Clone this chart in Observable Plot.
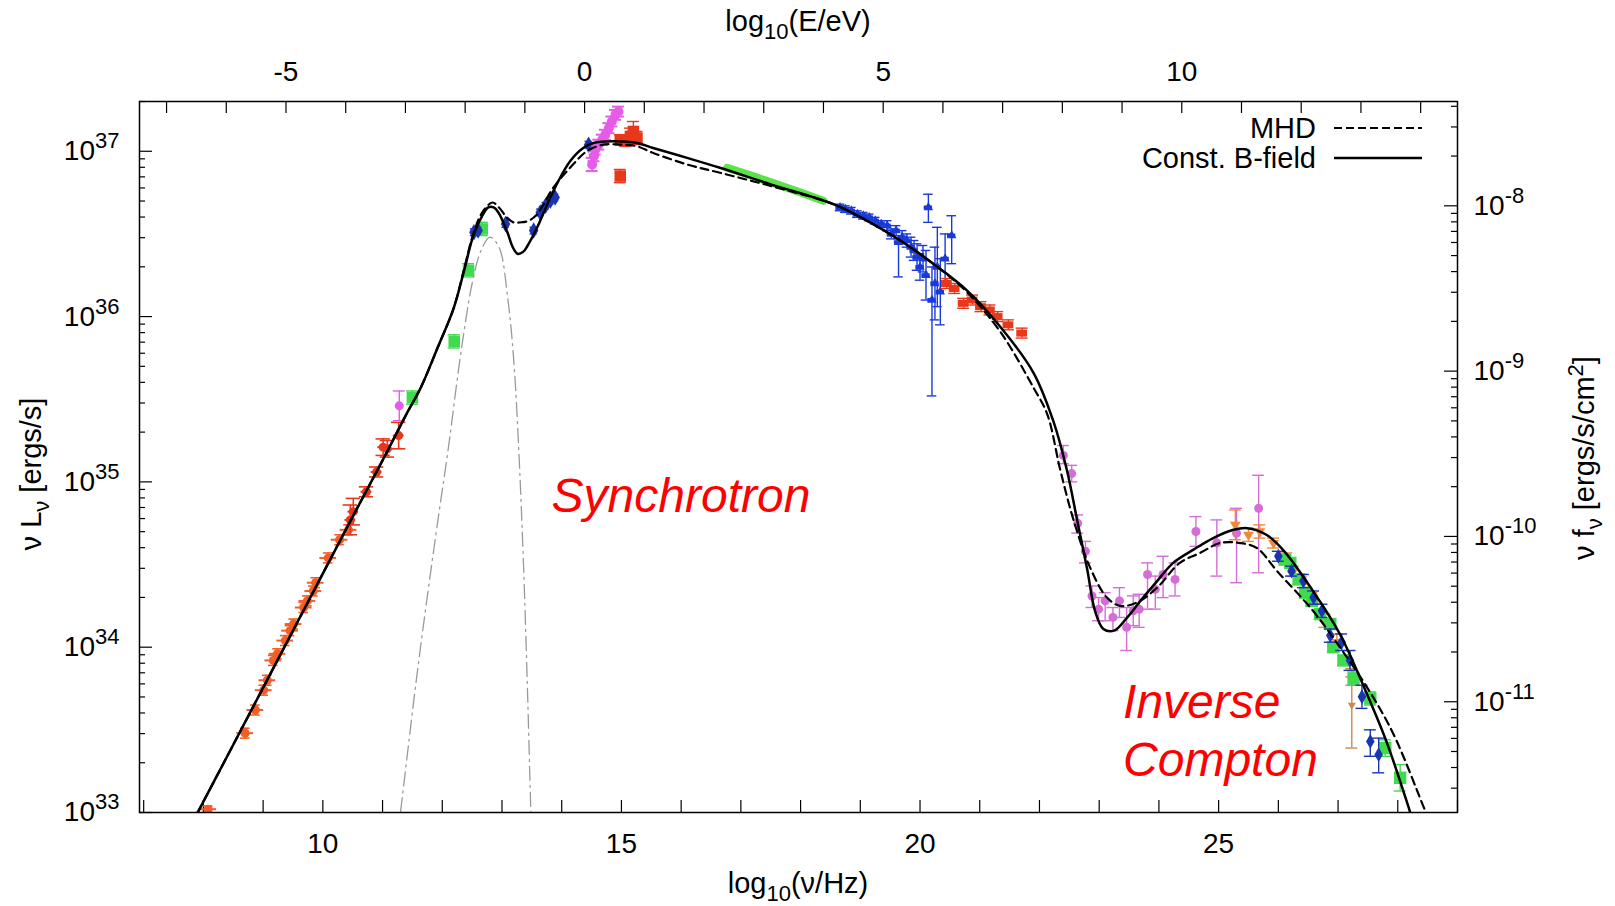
<!DOCTYPE html>
<html><head><meta charset="utf-8">
<script src="https://cdn.jsdelivr.net/npm/d3@7"></script>
<script src="https://cdn.jsdelivr.net/npm/@observablehq/plot@0.6"></script>
<style>
html,body{margin:0;padding:0;background:#fff;}
svg{display:block;}
</style>
</head><body><div id="chart"></div>
<script>
// ---------- axis constants ----------
const LOG_NU_1EV = 14.383;   // log10(nu/Hz) at E = 1 eV
const LOG_4PI_D2 = 44.67;    // log10(nuLnu / nufnu)
const bottomTicks = [10, 15, 20, 25];
const topTicks = [-5, 0, 5, 10];
const leftExponents = [33, 34, 35, 36, 37];
const rightExponents = [-11, -10, -9, -8];

// ---------- model curves [log10 nu, log10 nuLnu] ----------
const constB = [[7.70,32.86],[8.5,33.41],[9.5,34.10],[10.5,34.79],[11.0,35.13],[11.4,35.41],[11.64,35.57],[11.92,35.81],[12.19,36.05],[12.36,36.27],[12.52,36.49],[12.67,36.61],[12.77,36.66],[12.86,36.66],[12.94,36.63],[13.09,36.51],[13.18,36.42],[13.26,36.38],[13.35,36.39],[13.43,36.43],[13.59,36.54],[13.76,36.68],[13.93,36.81],[14.14,36.94],[14.36,37.02],[14.53,37.05],[14.86,37.06],[15.26,37.05],[15.53,37.02],[16.10,36.96],[16.65,36.90],[17.50,36.80],[18.55,36.68],[19.11,36.58],[19.67,36.46],[20.22,36.32],[20.78,36.16],[21.34,35.94],[21.90,35.66],[22.23,35.37],[22.46,35.07],[22.63,34.77],[22.80,34.47],[22.93,34.22],[23.07,34.11],[23.25,34.10],[23.47,34.18],[23.69,34.28],[23.97,34.40],[24.24,34.51],[24.58,34.59],[24.91,34.66],[25.25,34.71],[25.48,34.72],[25.80,34.68],[26.10,34.58],[26.58,34.34],[27.03,34.08],[27.48,33.72],[27.82,33.42],[28.20,33.01],[28.40,32.78]];
const mhd = [[7.70,32.86],[8.5,33.41],[9.5,34.10],[10.5,34.79],[11.0,35.13],[11.4,35.41],[11.64,35.57],[11.92,35.81],[12.19,36.05],[12.36,36.28],[12.52,36.50],[12.67,36.63],[12.84,36.69],[12.95,36.66],[13.08,36.60],[13.19,36.57],[13.31,36.57],[13.45,36.58],[13.59,36.62],[13.86,36.78],[14.14,36.90],[14.42,37.00],[14.70,37.04],[14.98,37.04],[15.26,37.03],[15.53,36.99],[16.10,36.92],[16.65,36.87],[17.50,36.79],[18.55,36.68],[19.11,36.58],[19.67,36.46],[20.22,36.32],[20.78,36.15],[21.34,35.91],[21.90,35.57],[22.13,35.41],[22.35,35.07],[22.57,34.77],[22.85,34.48],[23.13,34.30],[23.35,34.25],[23.63,34.27],[23.97,34.36],[24.35,34.51],[24.69,34.57],[25.02,34.63],[25.36,34.63],[25.64,34.60],[25.98,34.46],[26.58,34.22],[27.03,34.00],[27.48,33.76],[27.92,33.48],[28.46,33.01],[28.65,32.85]];
const dust = [[11.25,32.85],[11.3,33.0],[11.6,33.9],[11.9,34.7],[12.1,35.2],[12.3,35.75],[12.5,36.2],[12.65,36.4],[12.8,36.48],[12.95,36.42],[13.1,36.1],[13.2,35.72],[13.28,35.2],[13.36,34.5],[13.43,33.7],[13.49,32.9]];

// ---------- data points (log10 nu, log10 nuLnu, error) ----------
const radioX = [8.08, 8.70, 8.87, 9.01, 9.07, 9.17, 9.24, 9.37, 9.45, 9.51, 9.68, 9.74, 9.84, 9.88, 10.09, 10.28, 10.43];
const radioY = [33.02, 33.48, 33.62, 33.74, 33.80, 33.92, 33.96, 34.04, 34.10, 34.14, 34.24, 34.28, 34.34, 34.39, 34.54, 34.65, 34.71];
const radioErr = [0.02, 0.03, 0.03, 0.03, 0.03, 0.03, 0.03, 0.03, 0.03, 0.03, 0.03, 0.03, 0.03, 0.03, 0.03, 0.03, 0.03];

const mmX = [10.46, 10.51, 10.73, 10.90, 11.01, 11.08, 11.27];
const mmY = [34.77, 34.82, 34.94, 35.06, 35.21, 35.20, 35.28];
const mmErr = [0.09, 0.08, 0.03, 0.03, 0.05, 0.05, 0.08];

const irMagX = [11.28];
const irMagY = [35.46];
const irMagErr = [0.09];

const irGreenX = [11.50, 12.20, 12.44, 12.67];
const irGreenY = [35.51, 35.85, 36.28, 36.53];
const irGreenErr = [0.04, 0.04, 0.04, 0.04];

const irBlueX = [12.53, 12.60, 13.06, 13.53, 13.64, 13.73, 13.81, 13.89, 14.45];
const irBlueY = [36.51, 36.52, 36.56, 36.52, 36.63, 36.67, 36.70, 36.72, 37.04];
const irBlueErr = [0.02, 0.02, 0.02, 0.02, 0.02, 0.02, 0.02, 0.02, 0.02];

const optMagX = [14.51, 14.54, 14.56, 14.62, 14.68, 14.73, 14.79, 14.84, 14.90, 14.95];
const optMagY = [36.92, 36.97, 37.01, 37.04, 37.07, 37.10, 37.14, 37.18, 37.22, 37.24];
const optMagErr = [0.04, 0.03, 0.03, 0.03, 0.03, 0.03, 0.03, 0.03, 0.03, 0.03];

const optRedX = [14.98, 15.07, 15.15, 15.20, 15.26, 14.98];
const optRedY = [37.07, 37.06, 37.09, 37.12, 37.08, 36.85];
const optRedErr = [0.03, 0.03, 0.05, 0.06, 0.04, 0.04];

const softXray = [[16.77,36.90],[17.2,36.85],[17.6,36.80],[18.0,36.75],[18.38,36.70]];

const hardXX = [18.66, 18.75, 18.85, 18.95, 19.05, 19.15, 19.25, 19.35, 19.45, 19.52, 19.60, 19.64, 19.70, 19.78, 19.85, 19.90, 19.95, 20.00, 20.05, 20.10, 20.14, 20.20, 20.25, 20.29, 20.34, 20.42, 20.53];
const hardXY = [36.66, 36.65, 36.64, 36.62, 36.61, 36.60, 36.58, 36.56, 36.55, 36.50, 36.52, 36.45, 36.48, 36.46, 36.42, 36.40, 36.36, 36.30, 36.35, 36.25, 36.66, 36.10, 36.20, 36.30, 36.15, 36.35, 36.49];
const hardXLo = [36.64, 36.63, 36.62, 36.60, 36.59, 36.58, 36.56, 36.54, 36.52, 36.47, 36.49, 36.24, 36.44, 36.42, 36.36, 36.34, 36.28, 36.22, 36.27, 36.10, 36.57, 35.52, 35.98, 36.06, 35.95, 36.20, 36.32];
const hardXHi = [36.68, 36.67, 36.66, 36.64, 36.63, 36.62, 36.60, 36.58, 36.58, 36.53, 36.55, 36.47, 36.52, 36.50, 36.48, 36.46, 36.44, 36.38, 36.43, 36.40, 36.74, 36.30, 36.42, 36.54, 36.35, 36.50, 36.61];

const comptelX = [20.45, 20.58, 20.73, 20.88, 21.02, 21.17, 21.30, 21.48, 21.71];
const comptelY = [36.20, 36.17, 36.08, 36.10, 36.06, 36.04, 36.00, 35.95, 35.90];
const comptelErr = [0.03, 0.03, 0.03, 0.03, 0.03, 0.03, 0.03, 0.03, 0.03];

const gammaMagX = [22.40, 22.54, 22.64, 22.77, 22.88, 22.99, 23.10, 23.23, 23.34, 23.46, 23.57, 23.67, 23.81, 23.94, 24.07, 24.27, 24.62, 24.97, 25.30, 25.67];
const gammaMagY = [35.16, 35.05, 34.75, 34.58, 34.31, 34.23, 34.28, 34.18, 34.28, 34.12, 34.22, 34.23, 34.44, 34.35, 34.44, 34.41, 34.70, 34.63, 34.69, 34.84];
const gammaMagLo = [35.11, 35.00, 34.69, 34.51, 34.24, 34.16, 34.16, 34.10, 34.18, 33.98, 34.13, 34.12, 34.23, 34.23, 34.30, 34.31, 34.61, 34.43, 34.39, 34.45];
const gammaMagHi = [35.22, 35.10, 34.80, 34.64, 34.37, 34.30, 34.33, 34.24, 34.36, 34.24, 34.31, 34.32, 34.51, 34.43, 34.55, 34.51, 34.79, 34.77, 34.84, 35.04];

const tevOrangeX = [25.28, 25.50, 25.69, 25.92, 26.14, 26.25, 26.39, 26.56, 26.78, 26.98];
const tevOrangeY = [34.74, 34.68, 34.70, 34.63, 34.54, 34.46, 34.41, 34.29, 34.16, 34.03];
const tevOrangeErr = [0.09, 0.04, 0.04, 0.03, 0.03, 0.03, 0.03, 0.04, 0.04, 0.05];

const tevBrownX = [27.23, 27.23];
const tevBrownY = [33.82, 33.65];
const tevBrownLo = [33.77, 33.39];
const tevBrownHi = [33.87, 33.82];

const tevBlueX = [26.00, 26.22, 26.42, 26.59, 26.73, 26.87, 27.06, 27.20, 27.40, 27.54, 27.68];
const tevBlueY = [34.55, 34.46, 34.40, 34.30, 34.22, 34.07, 34.03, 33.92, 33.70, 33.43, 33.35];
const tevBlueLo = [34.52, 34.43, 34.36, 34.26, 34.18, 34.03, 33.98, 33.86, 33.63, 33.34, 33.24];
const tevBlueHi = [34.58, 34.49, 34.44, 34.34, 34.26, 34.11, 34.08, 33.98, 33.77, 33.50, 33.45];

const tevGreenX = [26.11, 26.20, 26.34, 26.45, 26.56, 26.70, 26.87, 26.92, 27.09, 27.26, 27.54, 27.79, 28.04];
const tevGreenY = [34.53, 34.51, 34.41, 34.33, 34.28, 34.20, 34.14, 34.00, 33.92, 33.81, 33.69, 33.39, 33.21];
const tevGreenErr = [0.03, 0.03, 0.03, 0.03, 0.03, 0.03, 0.03, 0.03, 0.03, 0.04, 0.04, 0.05, 0.08];

// ---------- helpers ----------
const pow = v => Math.pow(10, v);
const curve = arr => arr.map(([x, y]) => ({x, y: pow(y)}));
const sym = (xs, ys, es) => xs.map((x, i) => ({x, y: pow(ys[i]), lo: pow(ys[i] - es[i]), hi: pow(ys[i] + es[i])}));
const asym = (xs, ys, los, his) => xs.map((x, i) => ({x, y: pow(ys[i]), lo: pow(los[i]), hi: pow(his[i])}));

const C = {
  orange: "#f25e26", red: "#e8381c", green: "#3fdb4c", xgreen: "#5de34a",
  magenta: "#e55ce8", icMagenta: "#d46ed6", blue: "#1a3ad8", darkBlue: "#1b35b0",
  tri: "#f0883a", brown: "#c98a52", grey: "#9a9a9a"
};

function errBars(data, color, cap, sw = 1.4) {
  return [
    Plot.ruleX(data, {x: "x", y1: "lo", y2: "hi", stroke: color, strokeWidth: sw, clip: true}),
    Plot.ruleY(data, {y: "lo", x1: d => d.x - cap, x2: d => d.x + cap, stroke: color, strokeWidth: sw, clip: true}),
    Plot.ruleY(data, {y: "hi", x1: d => d.x - cap, x2: d => d.x + cap, stroke: color, strokeWidth: sw, clip: true})
  ];
}
function hBars(data, color, half, sw = 1.4) {
  return Plot.ruleY(data, {y: "y", x1: d => d.x - half, x2: d => d.x + half, stroke: color, strokeWidth: sw, clip: true});
}

const radio = sym(radioX, radioY, radioErr);
const mm = sym(mmX, mmY, mmErr);
const irMag = sym(irMagX, irMagY, irMagErr);
const irGreen = sym(irGreenX, irGreenY, irGreenErr);
const irBlue = sym(irBlueX, irBlueY, irBlueErr);
const optMag = sym(optMagX, optMagY, optMagErr);
const optRed = sym(optRedX, optRedY, optRedErr);
const hardX = asym(hardXX, hardXY, hardXLo, hardXHi);
const comptel = sym(comptelX, comptelY, comptelErr);
const gammaMag = asym(gammaMagX, gammaMagY, gammaMagLo, gammaMagHi);
const tevOrange = sym(tevOrangeX, tevOrangeY, tevOrangeErr);
const tevBrown = asym(tevBrownX, tevBrownY, tevBrownLo, tevBrownHi);
const tevBlue = asym(tevBlueX, tevBlueY, tevBlueLo, tevBlueHi);
const tevGreen = sym(tevGreenX, tevGreenY, tevGreenErr);

// ---------- ticks ----------
const W = 1615, H = 906, mL = 139, mR = 158, mT = 101, mB = 94;
const PW = W - mL - mR, PH = H - mT - mB;
const yDomain = [1e33, 2e37];
const inY = v => v >= yDomain[0] * 0.999 && v <= yDomain[1];
const leftMajor = leftExponents.map(pow);
const leftMinor = [];
for (const e of leftExponents) for (let k = 2; k <= 9; k++) { const v = k * pow(e); if (inY(v)) leftMinor.push(v); }
const rightMajor = rightExponents.map(e => pow(e + LOG_4PI_D2));
const rightMinor = [];
for (const e of [-12, ...rightExponents]) for (let k = 2; k <= 9; k++) { const v = k * pow(e + LOG_4PI_D2); if (inY(v)) rightMinor.push(v); }
const xMinor = d3.range(7, 30);
const topMinor = d3.range(-7, 15).map(e => e + LOG_NU_1EV);

const FONT = "'Liberation Sans', Arial, Helvetica, sans-serif";
const tickStyle = {stroke: "black", strokeWidth: 1.2};

const svg = Plot.plot({
  width: W, height: H,
  marginLeft: mL, marginRight: mR, marginTop: mT, marginBottom: mB,
  style: {fontFamily: FONT, fontSize: "28px", background: "white", color: "black"},
  x: {domain: [6.93, 29], label: null},
  y: {type: "log", domain: yDomain, label: null},
  marks: [
    // inward ticks
    Plot.tickX(xMinor, {x: d => d, insetTop: PH - 12, ...tickStyle}),
    Plot.tickX(topMinor, {x: d => d, insetBottom: PH - 12, ...tickStyle}),
    Plot.tickY(leftMajor, {y: d => d, insetRight: PW - 13, ...tickStyle}),
    Plot.tickY(leftMinor, {y: d => d, insetRight: PW - 6, ...tickStyle}),
    Plot.tickY(rightMajor, {y: d => d, insetLeft: PW - 13, ...tickStyle}),
    Plot.tickY(rightMinor, {y: d => d, insetLeft: PW - 6, ...tickStyle}),
    // axis labels
    Plot.axisX(bottomTicks, {anchor: "bottom", tickSize: 0, tickPadding: 21, fontSize: 28, tickFormat: d => String(d)}),
    Plot.axisX(topTicks.map(e => e + LOG_NU_1EV), {anchor: "top", tickSize: 0, tickPadding: 21, fontSize: 28, tickFormat: d => String(Math.round(d - LOG_NU_1EV))}),
    Plot.axisY(leftMajor, {anchor: "left", tickSize: 0, tickPadding: 20, fontSize: 28, tickFormat: d => "10^" + Math.round(Math.log10(d))}),
    Plot.axisY(rightMajor, {anchor: "right", tickSize: 0, tickPadding: 16, fontSize: 28, tickFormat: d => "10^" + Math.round(Math.log10(d) - LOG_4PI_D2)}),

    // dust component
    Plot.line(curve(dust), {x: "x", y: "y", stroke: C.grey, strokeWidth: 1.3, strokeDasharray: "14,5,2,5", curve: "catmull-rom", clip: true}),

    // data: radio
    ...errBars(radio, C.orange, 0.08, 1.6),
    hBars(radio, C.orange, 0.14, 2),
    Plot.dot(radio, {x: "x", y: "y", r: 4.5, fill: C.orange, clip: true}),
    ...errBars(mm, C.red, 0.12, 1.6),
    hBars(mm, C.red, 0.09, 2),
    Plot.dot(mm, {x: "x", y: "y", r: 4.5, fill: C.red}),
    ...errBars(irMag, C.magenta, 0.1),
    Plot.dot(irMag, {x: "x", y: "y", r: 4.5, fill: C.magenta}),
    ...errBars(irGreen, C.green, 0.1),
    Plot.dot(irGreen, {x: "x", y: "y", r: 6.5, symbol: "square", fill: C.green}),
    ...errBars(irBlue, C.darkBlue, 0.06),
    Plot.dot(irBlue, {x: "x", y: "y", r: 5, symbol: "diamond", fill: C.darkBlue}),
    ...errBars(optMag, C.magenta, 0.1, 2),
    Plot.dot(optMag, {x: "x", y: "y", r: 5, fill: C.magenta}),
    ...errBars(optRed, C.red, 0.1),
    Plot.dot(optRed, {x: "x", y: "y", r: 6.5, symbol: "square", fill: C.red}),

    // X-rays
    Plot.line(curve(softXray), {x: "x", y: "y", stroke: C.xgreen, strokeWidth: 8}),
    ...errBars(hardX, C.blue, 0.08),
    hBars(hardX, C.blue, 0.07, 4),
    Plot.dot(hardX, {x: "x", y: "y", r: 3.5, symbol: "triangle", fill: C.blue}),
    ...errBars(comptel, C.red, 0.1),
    hBars(comptel, C.red, 0.09, 7),

    // gamma rays
    ...errBars(gammaMag, C.icMagenta, 0.1),
    Plot.dot(gammaMag, {x: "x", y: "y", r: 4.5, fill: C.icMagenta}),
    ...errBars(tevBrown, C.brown, 0.1),
    Plot.dot(tevBrown, {x: "x", y: "y", r: 3, fill: C.brown, symbol: "triangle", rotate: 180}),
    ...errBars(tevOrange, C.tri, 0.1),
    Plot.dot(tevOrange, {x: "x", y: "y", r: 4, fill: C.tri, symbol: "triangle", rotate: 180}),
    ...errBars(tevGreen, C.green, 0.1),
    Plot.dot(tevGreen, {x: "x", y: "y", r: 7, symbol: "square", fill: C.green, clip: true}),
    ...errBars(tevBlue, C.darkBlue, 0.1),
    Plot.dot(tevBlue, {x: "x", y: "y", r: 4.5, symbol: "diamond", fill: C.darkBlue}),

    // models
    Plot.line(curve(mhd), {x: "x", y: "y", stroke: "black", strokeWidth: 2.2, strokeDasharray: "8,5", curve: "catmull-rom", clip: true}),
    Plot.line(curve(constB), {x: "x", y: "y", stroke: "black", strokeWidth: 2.5, curve: "catmull-rom", clip: true}),

    // annotations
    Plot.text(["Synchrotron"], {x: 13.83, y: pow(34.816), text: d => d, textAnchor: "start", lineAnchor: "bottom", fill: "#ff0000", fontSize: 48, fontStyle: "italic"}),
    Plot.text(["Inverse"], {x: 23.40, y: pow(33.57), text: d => d, textAnchor: "start", lineAnchor: "bottom", fill: "#ff0000", fontSize: 48, fontStyle: "italic"}),
    Plot.text(["Compton"], {x: 23.40, y: pow(33.22), text: d => d, textAnchor: "start", lineAnchor: "bottom", fill: "#ff0000", fontSize: 48, fontStyle: "italic"}),

    Plot.frame({stroke: "black", strokeWidth: 1.5})
  ]
});

// superscripted tick labels 10^n
d3.select(svg).selectAll("text").each(function () {
  const m = /^10\^(-?\d+)$/.exec(this.textContent);
  if (!m) return;
  const t = d3.select(this);
  t.text(null);
  t.append("tspan").text("10");
  t.append("tspan").attr("dy", "-12").attr("font-size", "22px").text(m[1]);
});

// axis titles with sub/superscripts
const root = d3.select(svg);
function rich(parent, parts, size) {
  const t = parent.append("text").attr("font-family", FONT).attr("font-size", size).attr("fill", "black");
  let shift = 0;
  for (const [s, kind] of parts) {
    const target = kind === "sub" ? 8 : kind === "sup" ? -11 : 0;
    const sp = t.append("tspan").text(s);
    if (target !== shift) { sp.attr("dy", target - shift); shift = target; }
    if (kind) sp.attr("font-size", Math.round(size * 0.75));
  }
  return t;
}
rich(root, [["log"], ["10", "sub"], ["(ν/Hz)"]], 29).attr("x", 798).attr("y", 893).attr("text-anchor", "middle");
rich(root, [["log"], ["10", "sub"], ["(E/eV)"]], 29).attr("x", 798).attr("y", 31).attr("text-anchor", "middle");
rich(root, [["ν L"], ["ν", "sub"], [" [ergs/s]"]], 29).attr("text-anchor", "middle").attr("transform", "translate(41,474) rotate(-90)");
rich(root, [["ν f"], ["ν", "sub"], [" [ergs/s/cm"], ["2", "sup"], ["]"]], 29).attr("text-anchor", "middle").attr("transform", "translate(1594,458) rotate(-90)");

// legend
const lg = root.append("g").attr("font-family", FONT).attr("font-size", 29);
lg.append("text").attr("x", 1316).attr("y", 128).attr("dy", "0.35em").attr("text-anchor", "end").text("MHD");
lg.append("line").attr("x1", 1334).attr("x2", 1422).attr("y1", 128).attr("y2", 128).attr("stroke", "black").attr("stroke-width", 2.2).attr("stroke-dasharray", "8,4");
lg.append("text").attr("x", 1316).attr("y", 158).attr("dy", "0.35em").attr("text-anchor", "end").text("Const. B-field");
lg.append("line").attr("x1", 1334).attr("x2", 1422).attr("y1", 158).attr("y2", 158).attr("stroke", "black").attr("stroke-width", 2.5);

document.getElementById("chart").appendChild(svg);
</script></body></html>
